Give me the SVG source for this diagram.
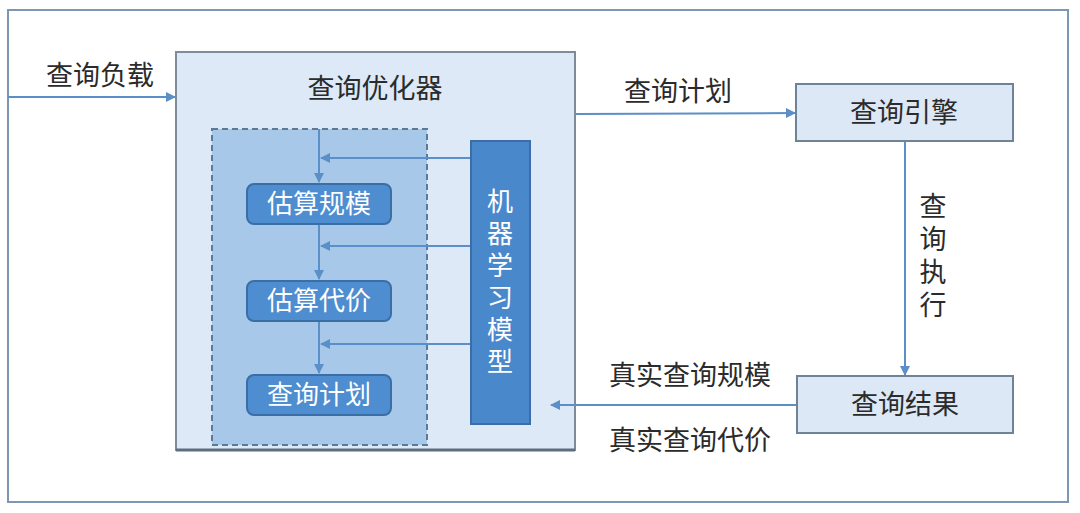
<svg xmlns="http://www.w3.org/2000/svg" width="1080" height="513" viewBox="0 0 1080 513">
<defs>
<style>
text{font-family:"Noto Sans CJK SC","Noto Sans",sans-serif;}
.lbl{font-size:27px;fill:#2b2b2b;}
.wt{font-size:26px;fill:#ffffff;}
.vt{writing-mode:vertical-rl;letter-spacing:6px;}
.conn{stroke:#5b8fc7;stroke-width:2;fill:none;}
.iconn{stroke:#5a8fca;stroke-width:2;fill:none;}
.blk{fill:#4e8dd0;stroke:#3b6ea6;stroke-width:2;}
.lt{fill:#dce8f5;stroke:#6e8298;stroke-width:2;}
</style>
<marker id="ah" viewBox="0 0 10 10" refX="9" refY="5" markerWidth="5" markerHeight="5" orient="auto-start-reverse">
<path d="M0,0 L10,5 L0,10 z" fill="#5b8fc7"/>
</marker>
</defs>
<rect x="0" y="0" width="1080" height="513" fill="#ffffff"/>
<rect id="frame" x="8" y="10" width="1060" height="492" fill="#ffffff" stroke="#7d97b2" stroke-width="2"/>

<g id="optimizer">
<rect x="176" y="52" width="399" height="398" fill="#dde9f6" stroke="#7d8b9a" stroke-width="2"/>
<line x1="176" y1="450" x2="575" y2="450" stroke="#5f6e7e" stroke-width="3"/>
<text x="375" y="98" class="lbl" text-anchor="middle">查询优化器</text>
</g>
<g id="inner">
<rect x="212" y="129" width="215" height="316" fill="#a8c8ea" stroke="#5c7995" stroke-width="2" stroke-dasharray="6,4"/>
</g>

<g id="connectors">
<line x1="8" y1="97" x2="175" y2="97" class="conn" marker-end="url(#ah)"/>
<line x1="319" y1="129" x2="319" y2="182" class="iconn" marker-end="url(#ah)"/>
<line x1="319" y1="225" x2="319" y2="279" class="iconn" marker-end="url(#ah)"/>
<line x1="319" y1="322" x2="319" y2="373" class="iconn" marker-end="url(#ah)"/>
<line x1="470" y1="158" x2="321" y2="158" class="iconn" marker-end="url(#ah)"/>
<line x1="470" y1="246" x2="321" y2="246" class="iconn" marker-end="url(#ah)"/>
<line x1="470" y1="344" x2="321" y2="344" class="iconn" marker-end="url(#ah)"/>
<line x1="576" y1="114" x2="795" y2="113" class="conn" marker-end="url(#ah)"/>
<line x1="905" y1="142" x2="905" y2="375" class="conn" marker-end="url(#ah)"/>
<line x1="796" y1="405" x2="551" y2="405" class="conn" marker-end="url(#ah)"/>
</g>

<g id="estimate-size">
<rect x="247" y="184" width="144" height="40" rx="7" class="blk"/>
<text x="319" y="213" class="wt" text-anchor="middle">估算规模</text>
</g>
<g id="estimate-cost">
<rect x="247" y="281" width="144" height="40" rx="7" class="blk"/>
<text x="319" y="310" class="wt" text-anchor="middle">估算代价</text>
</g>
<g id="query-plan-inner">
<rect x="247" y="375" width="144" height="40" rx="7" class="blk"/>
<text x="319" y="404" class="wt" text-anchor="middle">查询计划</text>
</g>
<g id="ml-model">
<rect x="471" y="141" width="59" height="283" fill="#4a88cc" stroke="#3b6ea6" stroke-width="2"/>
<text x="500" y="188" class="wt vt">机器学习模型</text>
</g>

<g id="engine">
<rect x="796" y="84" width="217" height="57" class="lt"/>
<text x="904" y="122" class="lbl" text-anchor="middle">查询引擎</text>
</g>
<g id="result">
<rect x="797" y="376" width="216" height="57" class="lt"/>
<text x="905" y="414" class="lbl" text-anchor="middle">查询结果</text>
</g>

<g id="labels">
<text x="100" y="85" class="lbl" text-anchor="middle">查询负载</text>
<text x="678" y="101" class="lbl" text-anchor="middle">查询计划</text>
<text x="933" y="192" class="lbl vt">查询执行</text>
<text x="690" y="385" class="lbl" text-anchor="middle">真实查询规模</text>
<text x="690" y="450" class="lbl" text-anchor="middle">真实查询代价</text>
</g>
</svg>
